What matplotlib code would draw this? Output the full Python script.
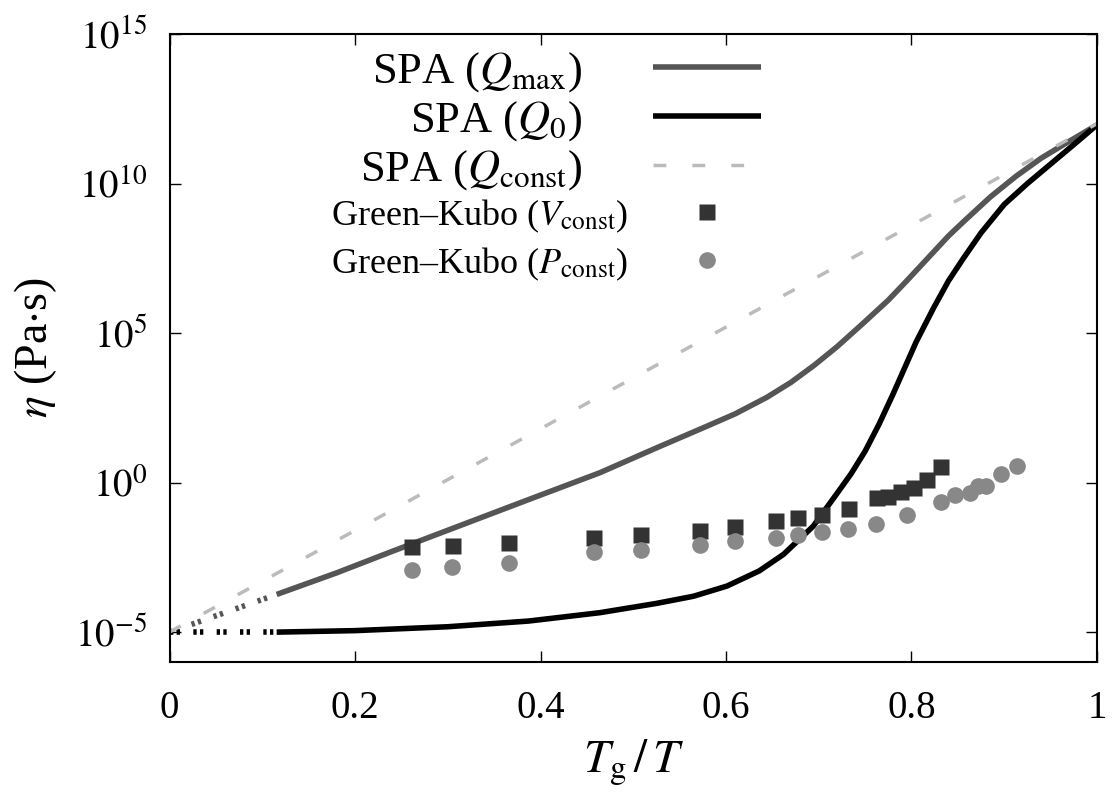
#viscosity vs Tg/T : SPA curves + Green-Kubo points
import matplotlib
matplotlib.use('agg')
import matplotlib.pyplot as plt
import numpy as np

plt.rcParams['font.family'] = ['Liberation Serif', 'DejaVu Serif']
plt.rcParams['mathtext.fontset'] = 'stix'

# SPA (Q_max) curve, log10 of eta
qmax_x = [0.1155, 0.18, 0.24, 0.302, 0.387, 0.464, 0.525, 0.579, 0.61, 0.644, 0.67,
          0.695, 0.72, 0.748, 0.775, 0.795, 0.816, 0.84, 0.856, 0.885, 0.913, 0.94,
          0.964, 1.0]
qmax_y = [-3.74, -3.02, -2.3, -1.57, -0.57, 0.33, 1.16, 1.88, 2.3, 2.85, 3.35,
          3.92, 4.55, 5.33, 6.1, 6.75, 7.45, 8.25, 8.72, 9.55, 10.25, 10.85,
          11.3, 11.96]
qmax_ext_x = [0.0, 0.1155]
qmax_ext_y = [-5.0, -3.74]

# SPA (Q_0) curve, log10 of eta
q0_x = [0.1155, 0.2, 0.3, 0.387, 0.464, 0.525, 0.565, 0.601, 0.636, 0.662, 0.694,
        0.72, 0.735, 0.75, 0.765, 0.78, 0.795, 0.805, 0.824, 0.84, 0.856, 0.875,
        0.9, 0.925, 0.95, 0.975, 1.0]
q0_y = [-5.0, -4.95, -4.82, -4.63, -4.35, -4.04, -3.8, -3.46, -2.95, -2.4, -1.46,
        -0.35, 0.3, 1.05, 1.95, 2.95, 4.0, 4.7, 5.85, 6.75, 7.5, 8.35,
        9.3, 10.0, 10.65, 11.3, 11.96]
q0_ext_x = [0.0, 0.1155]
q0_ext_y = [-5.0, -5.0]

# SPA (Q_const) - straight line in log
qc_x = [0.0, 1.0]
qc_y = [-5.0, 12.0]

# Green-Kubo V const
gkv_x = [0.2615, 0.3053, 0.3657, 0.4577, 0.5084, 0.572, 0.6097, 0.6536, 0.6776,
         0.7035, 0.7326, 0.7625, 0.775, 0.7887, 0.8027, 0.8167, 0.8318]
gkv_y = [-2.16, -2.13, -2.03, -1.86, -1.76, -1.63, -1.49, -1.29, -1.19,
         -1.07, -0.89, -0.53, -0.48, -0.32, -0.19, 0.08, 0.51]

# Green-Kubo P const
gkp_x = [0.2615, 0.3049, 0.3657, 0.4577, 0.5084, 0.572, 0.6097, 0.6536, 0.6776,
         0.7035, 0.7319, 0.762, 0.7955, 0.8315, 0.8469, 0.863, 0.8714, 0.88,
         0.8965, 0.9134]
gkp_y = [-2.91, -2.83, -2.68, -2.31, -2.24, -2.09, -1.94, -1.86, -1.76,
         -1.64, -1.55, -1.38, -1.09, -0.65, -0.43, -0.36, -0.12, -0.10,
         0.28, 0.57]

xticks = [0, 0.2, 0.4, 0.6, 0.8, 1]
xtick_labels = ['0', '0.2', '0.4', '0.6', '0.8', '1']
yticks = [1e-5, 1e0, 1e5, 1e10, 1e15]
ytick_labels = ['$10^{-5}$', '$10^{0}$', '$10^{5}$', '$10^{10}$', '$10^{15}$']

def pw(v):
	return 10.0 ** np.array(v)

fig = plt.figure(figsize=(11.14, 7.96), dpi=100)
ax = fig.add_axes([0.1522, 0.1683, 0.8325, 0.789])

dots = (0, (0.6, 0.6, 0.6, 2.4))

l1, = ax.plot(qmax_x, pw(qmax_y), color='#555555', lw=4, solid_capstyle='butt', solid_joinstyle='round')
ax.plot(qmax_ext_x, pw(qmax_ext_y), color='#555555', lw=4, linestyle=dots)
l2, = ax.plot(q0_x, pw(q0_y), color='black', lw=4, solid_capstyle='butt', solid_joinstyle='round')
ax.plot(q0_ext_x, pw(q0_ext_y), color='black', lw=4, linestyle=dots)
l3, = ax.plot(qc_x, pw(qc_y), color='#bbbbbb', lw=2.5, dashes=(3.7, 7.5))
p1, = ax.plot(gkv_x, pw(gkv_y), 's', color='#333333', ms=11.5, mec='none')
p2, = ax.plot(gkp_x, pw(gkp_y), 'o', color='#888888', ms=12, mec='none')

ax.set_yscale('log')
ax.set_xlim(0, 1)
ax.set_ylim(1e-6, 1e15)
ax.set_xticks(xticks)
ax.set_xticklabels(xtick_labels)
ax.set_yticks(yticks)
ax.set_yticklabels(ytick_labels)
ax.minorticks_off()
ax.tick_params(direction='in', length=8, width=1, top=True, right=True, labelsize=28)
ax.tick_params(axis='x', pad=20)
ax.tick_params(axis='y', pad=16)
for s in ax.spines.values():
	s.set_linewidth(1.5)

ax.set_xlabel('$T_\\mathrm{g}\\,/\\,T$', fontsize=34, labelpad=8)
ax.set_ylabel('$\\eta$ (Pa$\\cdot$s)', fontsize=33, labelpad=12)

leg1 = ax.legend([l1, l2, l3],
	['SPA ($Q_\\mathrm{max}$)', 'SPA ($Q_0$)', 'SPA ($Q_\\mathrm{const}$)'],
	loc='upper right', bbox_to_anchor=(0.638, 0.975), frameon=False,
	markerfirst=False, fontsize=32, handlelength=2.43, handletextpad=1.6,
	borderpad=0, borderaxespad=0, labelspacing=0.12)
ax.add_artist(leg1)
leg2 = ax.legend([p1, p2],
	['Green\u2013Kubo ($V_\\mathrm{const}$)', 'Green\u2013Kubo ($P_\\mathrm{const}$)'],
	loc='upper right', bbox_to_anchor=(0.638, 0.74), frameon=False,
	markerfirst=False, fontsize=26, handlelength=3.0, handletextpad=0.7,
	borderpad=0, borderaxespad=0, labelspacing=0.3, numpoints=1)

plt.savefig('out.png')
plt.close()
